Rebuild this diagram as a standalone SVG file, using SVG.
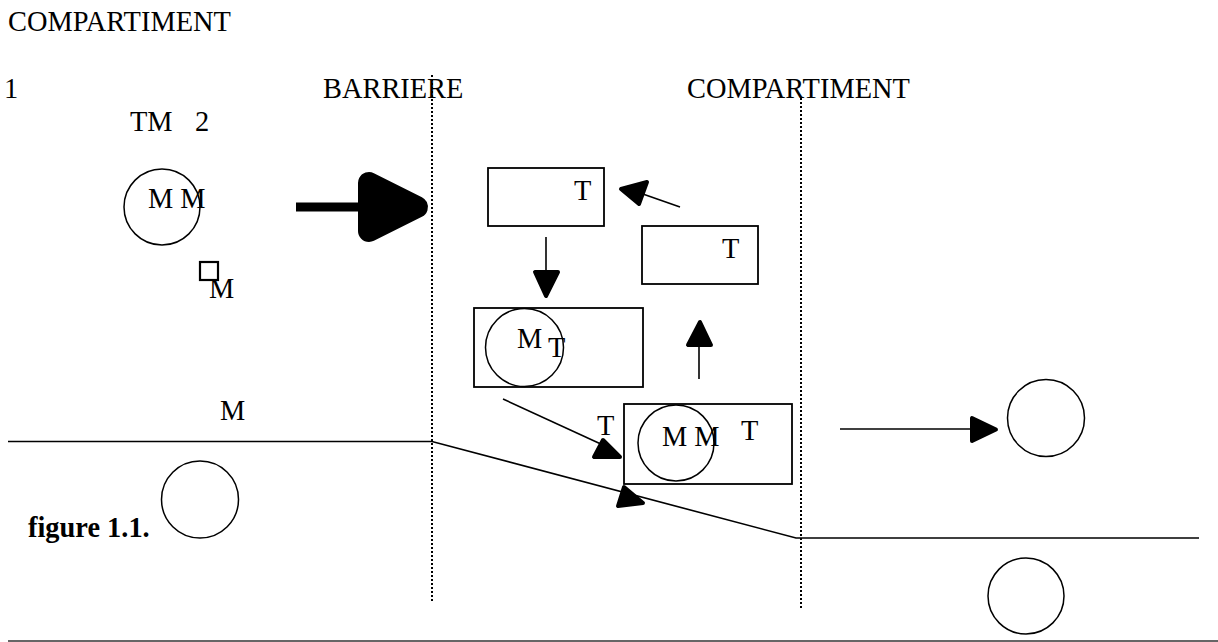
<svg xmlns="http://www.w3.org/2000/svg" width="1218" height="642" viewBox="0 0 1218 642">
<style>
  text { font-family: "Liberation Serif", "Times New Roman", serif; font-size: 28.4px; fill: #000; }
  .bold { font-weight: bold; }
  .shape { fill: none; stroke: #000; stroke-width: 1.5; }
  .box { fill: none; stroke: #000; stroke-width: 1.8; }
  .line { fill: none; stroke: #000; stroke-width: 1.6; }
  .dot { fill: none; stroke: #000; stroke-width: 2; stroke-dasharray: 2 2; }
  .head { fill: #000; stroke: #000; stroke-width: 4; stroke-linejoin: round; }
</style>
<rect width="1218" height="642" fill="#fff"/>

<g id="labels">
  <text x="8" y="31">COMPARTIMENT</text>
  <text x="4" y="98">1</text>
  <text x="323" y="98">BARRIERE</text>
  <text x="687" y="98">COMPARTIMENT</text>
  <text x="130" y="131">TM<tspan x="195">2</tspan></text>
  <text x="220" y="420">M</text>
  <text class="bold" x="28" y="537">figure 1.1.</text>
</g>

<g id="barriers">
  <line class="dot" x1="432" y1="75" x2="432" y2="603"/>
  <line class="dot" x1="801" y1="98" x2="801" y2="610"/>
  <polyline class="line" points="8,441.5 432,441.5 796,538 1199,538"/>
  <line x1="8" y1="641" x2="1218" y2="641" stroke="#333" stroke-width="1.5"/>
</g>

<g id="node-mm-left">
  <circle class="shape" cx="162" cy="207" r="38"/>
  <text x="148" y="208">M M</text>
</g>

<g id="node-small-m">
  <rect x="200" y="262" width="18" height="18" fill="none" stroke="#000" stroke-width="2.2"/>
  <text x="209" y="298">M</text>
</g>

<g id="node-t1">
  <rect class="box" x="488" y="168" width="116" height="58"/>
  <text x="574" y="200">T</text>
</g>

<g id="node-t2">
  <rect class="box" x="642" y="226" width="116" height="58"/>
  <text x="722" y="258">T</text>
</g>

<g id="node-mt">
  <rect class="box" x="474" y="308" width="169" height="79"/>
  <circle class="shape" cx="524.5" cy="347.5" r="39"/>
  <text x="517" y="348">M</text>
  <text x="548" y="357">T</text>
</g>

<g id="node-mmt">
  <rect class="box" x="624" y="404" width="168" height="80"/>
  <circle class="shape" cx="676" cy="443" r="38"/>
  <text x="662" y="446">M M</text>
  <text x="741" y="440">T</text>
  <text x="597" y="435">T</text>
</g>

<g id="node-circle-right">
  <circle class="shape" cx="1046" cy="418" r="38.5"/>
</g>

<g id="node-circle-bottom-left">
  <circle class="shape" cx="200" cy="499.5" r="38.5"/>
</g>

<g id="node-circle-bottom-right">
  <circle class="shape" cx="1026" cy="596" r="38"/>
</g>

<g id="connectors">
  <line x1="296" y1="207" x2="370" y2="207" stroke="#000" stroke-width="9"/>
  <polygon points="369,183 369,231 417,207" fill="#000" stroke="#000" stroke-width="22" stroke-linejoin="round"/>

  <line class="line" x1="546" y1="237" x2="546" y2="275"/>
  <polygon class="head" points="535,272 558,272 546,296"/>

  <line class="line" x1="680" y1="207" x2="640" y2="193"/>
  <polygon class="head" points="621,189 647,182 639,204"/>

  <line class="line" x1="699" y1="379" x2="699" y2="342"/>
  <polygon class="head" points="688,345 711,345 700,322"/>

  <line class="line" x1="503" y1="399" x2="603" y2="445"/>
  <polygon class="head" points="603,440 594,457 620,457"/>

  <polygon class="head" points="624,487 618,506 643,503"/>

  <line class="line" x1="840" y1="429" x2="975" y2="429"/>
  <polygon class="head" points="972,418 972,441 996,429.5"/>
</g>
</svg>
